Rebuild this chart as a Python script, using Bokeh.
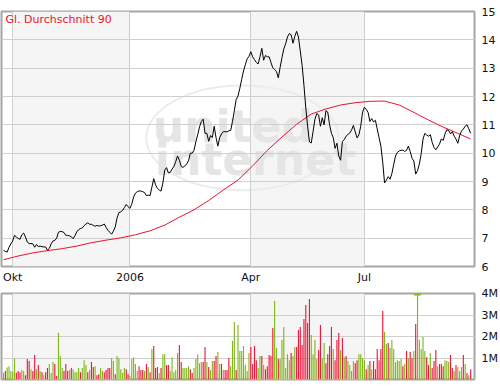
from bokeh.plotting import figure
from bokeh.layouts import column
from bokeh.models import FixedTicker, ColumnDataSource, Range1d, Label
from bokeh.embed import file_html
from bokeh.resources import INLINE
from bokeh.core.properties import value

# ---------------- data (one value per trading day, Sep 2005 - Sep 2006) ----------------
price = [
    6.57, 6.53, 6.51, 6.68, 6.80, 6.90, 7.10, 7.04, 6.99, 6.96,
    7.12, 7.18, 7.04, 6.86, 6.81, 6.81, 6.80, 6.68, 6.78, 6.70,
    6.72, 6.70, 6.69, 6.69, 6.57, 6.64, 6.80, 6.90, 6.92, 7.00,
    7.21, 7.24, 7.23, 7.20, 7.10, 7.10, 7.08, 7.05, 6.98, 7.09,
    7.22, 7.30, 7.34, 7.36, 7.44, 7.50, 7.54, 7.49, 7.49, 7.45,
    7.42, 7.45, 7.43, 7.44, 7.46, 7.50, 7.38, 7.28, 7.21, 7.14,
    7.25, 7.40, 7.72, 7.90, 7.93, 7.98, 8.08, 8.19, 8.11, 8.05,
    8.20, 8.45, 8.59, 8.64, 8.67, 8.66, 8.64, 8.61, 8.50, 8.52,
    8.50, 8.80, 9.10, 8.88, 8.76, 8.70, 8.66, 8.95, 9.40, 9.49,
    9.30, 9.32, 9.44, 9.53, 9.70, 9.90, 9.75, 9.53, 9.50, 9.55,
    9.62, 9.73, 10.00, 10.00, 10.10, 10.40, 10.65, 10.93, 11.12, 11.20,
    10.70, 10.70, 10.42, 10.62, 10.55, 10.95, 10.55, 10.25, 10.55, 10.68,
    10.76, 10.76, 10.75, 10.79, 10.80, 11.12, 11.50, 11.89, 12.02, 12.29,
    12.60, 12.90, 13.12, 13.33, 13.42, 13.58, 13.40, 13.30, 13.20, 13.15,
    13.40, 13.70, 13.28, 13.45, 13.40, 13.40, 13.20, 13.01, 12.95, 12.88,
    12.66, 13.03, 13.37, 13.68, 13.86, 14.10, 14.22, 14.18, 13.88, 14.12,
    14.30, 14.10, 13.60, 13.10, 12.40, 11.60, 10.95, 10.40, 10.36, 10.77,
    11.20, 11.40, 11.35, 10.95, 11.25, 11.00, 11.50, 11.45, 11.00, 10.70,
    10.55, 10.17, 10.35, 9.90, 9.75, 10.41, 10.48, 10.60, 10.66, 10.71,
    10.82, 10.98, 10.75, 10.54, 10.65, 10.95, 11.45, 11.62, 11.55, 11.44,
    11.12, 11.22, 11.10, 11.16, 10.85, 10.55, 10.25, 9.68, 8.95, 9.05,
    9.17, 9.08, 9.28, 9.60, 9.90, 10.03, 10.08, 10.10, 10.11, 10.06,
    10.10, 10.25, 10.06, 9.82, 9.72, 9.26, 9.38, 9.62, 9.98, 10.50,
    10.70, 10.64, 10.60, 10.65, 10.38, 10.20, 10.12, 10.22, 10.32, 10.50,
    10.45, 10.68, 10.83, 10.80, 10.68, 10.76, 10.60, 10.50, 10.35, 10.62,
    10.78, 10.85, 10.95, 11.00, 10.86, 10.70,
]

# 90-day moving average, read every 8 trading days
ma_idx = list(range(0, 249, 8)) + [255]
ma = [6.24, 6.37, 6.48, 6.56, 6.63, 6.72, 6.84, 6.93, 7.01, 7.12,
      7.26, 7.46, 7.74, 8.00, 8.33, 8.70, 9.05, 9.55, 10.10, 10.57,
      11.02, 11.38, 11.56, 11.70, 11.78, 11.83, 11.84, 11.70, 11.44, 11.17,
      10.92, 10.70, 10.50]

# volume in millions
vol = [
    0.31, 0.39, 0.56, 0.62, 0.39, 0.36, 0.98, 0.31, 0.39, 0.34,
    0.44, 0.39, 0.20, 0.95, 0.86, 0.48, 0.39, 1.14, 0.48, 0.67,
    0.39, 0.34, 0.20, 0.34, 0.53, 0.72, 0.30, 0.81, 0.72, 0.16,
    2.18, 1.09, 0.53, 0.39, 0.72, 0.39, 0.44, 0.53, 0.48, 0.34,
    0.34, 0.53, 0.34, 0.53, 0.90, 0.67, 0.34, 0.44, 0.81, 0.58,
    0.62, 0.20, 0.25, 0.53, 0.39, 0.34, 0.44, 0.53, 0.53, 1.00,
    0.86, 0.25, 1.09, 1.00, 0.48, 0.30, 0.53, 0.48, 0.25, 0.16,
    0.95, 1.04, 0.72, 0.39, 0.62, 0.44, 0.44, 0.39, 0.72, 0.58,
    0.34, 1.42, 1.56, 0.53, 0.58, 0.30, 0.53, 1.18, 1.18, 0.67,
    0.67, 0.39, 1.04, 0.34, 0.44, 1.23, 1.60, 0.81, 0.53, 0.53,
    0.53, 0.62, 0.48, 0.30, 0.53, 0.95, 1.18, 0.76, 0.81, 0.81,
    1.51, 0.81, 0.58, 0.44, 0.86, 0.86, 1.09, 1.28, 0.72, 0.72,
    0.44, 0.44, 0.44, 1.00, 0.62, 1.79, 2.67, 0.44, 2.53, 1.32,
    1.32, 1.56, 0.67, 0.39, 1.23, 1.51, 0.72, 1.56, 0.90, 0.53,
    1.09, 1.09, 0.67, 0.48, 0.62, 1.14, 1.09, 2.40, 3.65, 1.46,
    0.95, 0.95, 1.84, 2.44, 0.53, 1.18, 0.90, 1.23, 1.09, 1.51,
    1.51, 2.30, 2.44, 1.60, 2.81, 3.47, 2.63, 3.75, 2.07, 1.18,
    1.84, 0.95, 1.37, 2.53, 0.98, 1.70, 0.76, 1.18, 1.56, 2.44,
    1.42, 0.90, 1.84, 2.16, 1.37, 1.93, 1.04, 1.09, 0.86, 0.67,
    0.39, 0.86, 0.76, 0.90, 1.18, 1.18, 1.00, 0.90, 0.48, 0.67,
    0.86, 0.48, 0.86, 0.48, 1.42, 0.90, 1.42, 3.19, 2.21, 1.65,
    1.70, 1.46, 1.84, 1.42, 0.80, 0.90, 0.86, 0.95, 0.62, 0.72,
    1.32, 1.00, 1.28, 1.00, 1.32, 2.58, 4.50, 1.84, 1.42, 1.98,
    1.32, 1.04, 0.67, 1.23, 0.53, 0.86, 1.37, 0.62, 0.72, 0.72,
    0.62, 0.90, 0.86, 0.81, 1.14, 0.53, 0.39, 0.67, 0.58, 0.39,
    0.58, 1.14, 0.72, 0.30, 0.20, 0.48,
]

# g = up day (green), r = down day (red)
direction = "".join([
    "grgggggrrr", "ggrrrgrrgr", "grgrrgggrr", "gggrrrgrgg", "ggrgggrgrr",
    "grrggrrrrg", "grgggggrrg", "ggggrrrgrg", "rgrrrgrggr", "rgggggrrgg",
    "ggrrgggggr", "rgrggrrggr", "grrrgggrgg", "gggggrrrrg", "grgrrrrrgg",
    "rggggggrgg", "rrrrrrrrgg", "ggrrggrrrr", "grrrgrgrgg", "ggrrggggrg",
    "rgrrrrrrgg", "rgggggggrg", "rgrrgrgggg", "grrgrrrgrr", "rgggrrgrgg",
    "grgrgr",
])

month_ticks = [5, 69, 135, 197]
month_labels = ["Okt", "2006", "Apr", "Jul"]
price_ticks = [6, 7, 8, 9, 10, 11, 12, 13, 14, 15]
vol_ticks = [1, 2, 3, 4]
vol_labels = ["1M", "2M", "3M", "4M"]
legend_text = "Gl. Durchschnitt 90"

assert len(price) == len(vol) == len(direction)
assert len(ma) == len(ma_idx)

days = list(range(len(price)))

GREEN = "#80b818"
RED = "#f2173a"
GRID = "#cfcfcf"
SHADE = "#f5f5f5"
FRAME = "#a6a6a6"
FONT = "DejaVu Sans"

x_start, x_end = -1.1, 257.1
p_lo, p_hi = price_ticks[0], price_ticks[-1]


def style_axis(ax, standoff):
    ax.axis_line_color = None
    ax.major_tick_line_color = None
    ax.minor_tick_line_color = None
    ax.major_tick_out = 0
    ax.major_tick_in = 0
    ax.minor_tick_out = 0
    ax.minor_tick_in = 0
    ax.major_label_text_font = FONT
    ax.major_label_text_font_size = "11px"
    ax.major_label_text_color = "#111111"
    ax.major_label_standoff = standoff


# ---------------- price chart ----------------
p = figure(width=500, height=286, x_range=Range1d(x_start, x_end),
           y_range=Range1d(p_lo, p_hi), y_axis_location="right",
           output_backend="svg", toolbar_location=None,
           min_border_left=1, min_border_right=24,
           min_border_top=11, min_border_bottom=20)
p.outline_line_color = FRAME
p.outline_line_width = 2
p.background_fill_color = "white"
p.border_fill_color = "white"

style_axis(p.xaxis[0], 4)
style_axis(p.yaxis[0], 7)
p.xaxis.ticker = FixedTicker(ticks=month_ticks)
p.xaxis.major_label_overrides = {t: l for t, l in zip(month_ticks, month_labels)}
p.yaxis.ticker = FixedTicker(ticks=price_ticks)
p.xgrid.grid_line_color = GRID
p.ygrid.grid_line_color = GRID

band_left = month_ticks[0::2]
band_right = month_ticks[1::2]
p.quad(left=band_left, right=band_right, bottom=p_lo, top=p_hi,
       fill_color=SHADE, line_color=None, level="image")

# watermark logo
p.ellipse(x=[130.4], y=[10.54], width=105, height=3.7, fill_color=None,
          line_color="#ececec", line_width=2, level="underlay")
p.text(x=[81.5, 82.6], y=[10.93, 9.76], text=["united", "internet"],
       text_font=value(FONT), text_font_style="bold", text_font_size="44px",
       text_color="#e5e5e5", text_align="left", text_baseline="alphabetic",
       level="underlay")

p.line(ma_idx, ma, line_color="#f0102e", line_width=1)
p.line(days, price, line_color="black", line_width=1)

p.add_layout(Label(x=x_start + 2.2, y=p_hi - 0.07, text=legend_text,
                   text_font=FONT, text_font_size="11px", text_color="#f0102e",
                   text_baseline="top", text_align="left"))

# ---------------- volume chart ----------------
v_hi = vol_ticks[-1]
p2 = figure(width=500, height=96, x_range=p.x_range, y_range=Range1d(0, v_hi),
            y_axis_location="right", output_backend="svg", toolbar_location=None,
            min_border_left=1, min_border_right=24,
            min_border_top=7, min_border_bottom=3)
p2.outline_line_color = FRAME
p2.outline_line_width = 2
p2.background_fill_color = "white"
p2.border_fill_color = "white"
p2.xaxis.visible = False
p2.xgrid.ticker = FixedTicker(ticks=month_ticks)
p2.xgrid.grid_line_color = GRID
p2.ygrid.grid_line_color = GRID
ya = p2.yaxis[0]
style_axis(ya, 7)
ya.ticker = FixedTicker(ticks=vol_ticks)
ya.major_label_overrides = {t: l for t, l in zip(vol_ticks, vol_labels)}

p2.quad(left=band_left, right=band_right, bottom=0, top=v_hi,
        fill_color=SHADE, line_color=None, level="image")

colors = [GREEN if d == "g" else RED for d in direction]
src = ColumnDataSource(dict(x=days, top=vol, color=colors))
p2.vbar(x="x", top="top", width=0.62, fill_color="color", line_color=None, source=src)

over = [i for i, v in enumerate(vol) if v > v_hi]
p2.scatter(x=over, y=[v_hi * 0.985] * len(over), marker="dash", size=7,
           line_color=[colors[i] for i in over], line_width=1.5)

layout = column(p, p2, spacing=0)
open("out.html", "w").write(file_html(layout, INLINE))
